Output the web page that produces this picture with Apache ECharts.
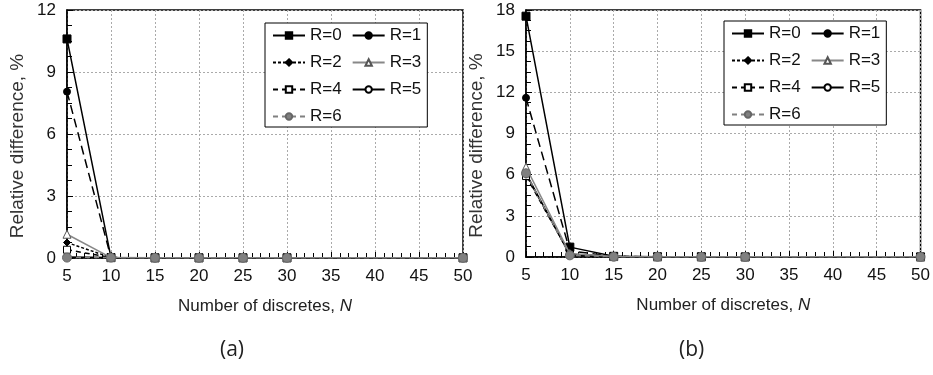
<!DOCTYPE html>
<html>
<head>
<meta charset="utf-8">
<script src="https://cdn.jsdelivr.net/npm/echarts@6/dist/echarts.min.js"></script>
<style>
  html, body { margin: 0; padding: 0; background: #fff; }
  #chart { width: 933px; height: 375px; }
</style>
</head>
<body>
<div id="chart"></div>
<script>
const discretes = [5, 10, 15, 20, 25, 30, 50];
const seriesNames = ["R=0", "R=1", "R=2", "R=3", "R=4", "R=5", "R=6"];

// panel (a)
const diffA0 = [10.6, 0.02, 0.01, 0.01, 0.01, 0.01, 0.01];
const diffA1 = [8.05, 0.02, 0.01, 0.01, 0.01, 0.01, 0.01];
const diffA2 = [0.75, 0.02, 0.01, 0.01, 0.01, 0.01, 0.01];
const diffA3 = [1.15, 0.02, 0.01, 0.01, 0.01, 0.01, 0.01];
const diffA4 = [0.4, 0.02, 0.01, 0.01, 0.01, 0.01, 0.01];
const diffA5 = [0.05, 0.02, 0.01, 0.01, 0.01, 0.01, 0.01];
const diffA6 = [0.02, 0.02, 0.01, 0.01, 0.01, 0.01, 0.01];

// panel (b)
const diffB0 = [17.55, 0.72, 0.05, 0.02, 0.02, 0.01, 0.01];
const diffB1 = [11.6, 0.45, 0.04, 0.02, 0.02, 0.01, 0.01];
const diffB2 = [6.0, 0.2, 0.03, 0.02, 0.01, 0.01, 0.01];
const diffB3 = [6.55, 0.25, 0.03, 0.02, 0.01, 0.01, 0.01];
const diffB4 = [5.9, 0.2, 0.03, 0.02, 0.01, 0.01, 0.01];
const diffB5 = [6.1, 0.15, 0.02, 0.02, 0.01, 0.01, 0.01];
const diffB6 = [6.1, 0.12, 0.02, 0.02, 0.01, 0.01, 0.01];

const valuesA = [diffA0, diffA1, diffA2, diffA3, diffA4, diffA5, diffA6];
const valuesB = [diffB0, diffB1, diffB2, diffB3, diffB4, diffB5, diffB6];

// line / marker look for each R, same in both panels
const looks = [
  { color: "#000", type: "solid", symbol: "rect", size: 8, fill: "#000", border: "#000" },
  { color: "#000", type: [9, 5], symbol: "circle", size: 7, fill: "#000", border: "#000" },
  { color: "#000", type: [3, 2], symbol: "diamond", size: 7, fill: "#000", border: "#000" },
  { color: "#888", type: "solid", symbol: "triangle", size: 8, fill: "#fff", border: "#555" },
  { color: "#000", type: [5, 4], symbol: "rect", size: 7, fill: "#fff", border: "#000" },
  { color: "#000", type: "solid", symbol: "circle", size: 7, fill: "#fff", border: "#000" },
  { color: "#808080", type: [5, 4], symbol: "circle", size: 9, fill: "#808080", border: "#666" },
];
const zOrder = [8, 7, 6, 9, 5, 4, 20];

const font = "'Liberation Sans', Arial, sans-serif";
const chart = echarts.init(document.getElementById("chart"));

function makeSeries(values, idx) {
  return values.map((vals, i) => ({
    name: seriesNames[i],
    type: "line",
    xAxisIndex: idx,
    yAxisIndex: idx,
    data: discretes.map((n, j) => [n, vals[j]]),
    symbol: looks[i].symbol,
    symbolSize: looks[i].size,
    showAllSymbol: true,
    lineStyle: { color: looks[i].color, type: looks[i].type, width: 1.5 },
    itemStyle: { color: looks[i].fill, borderColor: looks[i].border, borderWidth: 1 },
    z: zOrder[i],
  }));
}

function xAxis(idx) {
  return {
    gridIndex: idx,
    type: "value",
    min: 5,
    max: 50,
    interval: 5,
    name: "Number of discretes, {i|N}",
    nameLocation: "middle",
    nameGap: 40,
    nameTextStyle: { fontFamily: font, fontSize: 17, color: "#222", rich: { i: { fontFamily: font, fontSize: 17, fontStyle: "italic", color: "#222" } } },
    axisLine: { lineStyle: { color: "#000", width: 1.5 } },
    axisTick: { inside: true, length: 6, lineStyle: { color: "#000" } },
    minorTick: { show: true, splitNumber: 5, length: 5, lineStyle: { color: "#000" } },
    axisLabel: { fontFamily: font, fontSize: 17, color: "#111", margin: 10 },
    splitLine: { lineStyle: { color: "#aaa", type: [2, 2] } },
  };
}

function yAxis(idx, max) {
  return {
    gridIndex: idx,
    type: "value",
    min: 0,
    max: max,
    interval: 3,
    name: "Relative difference, %",
    nameLocation: "middle",
    nameGap: 40,
    nameTextStyle: { fontFamily: font, fontSize: 19, color: "#333", padding: [0, 24, 0, 0] },
    axisLine: { show: true, lineStyle: { color: "#000", width: 1.5 } },
    axisTick: { inside: true, length: 6, lineStyle: { color: "#000" } },
    minorTick: { show: true, splitNumber: 4, length: 5, lineStyle: { color: "#000" } },
    axisLabel: { fontFamily: font, fontSize: 17, color: "#111", margin: 11 },
    splitLine: { lineStyle: { color: "#aaa", type: [2, 2] } },
  };
}

// legend keys: R=1 is drawn solid in the key although its curve is dashed
const legendItems = seriesNames.map((name) =>
  name === "R=1" ? { name: name, lineStyle: { type: "solid" } } : { name: name }
);

function legend(left, top) {
  return {
    data: legendItems,
    left: left,
    top: top,
    width: 150,
    orient: "horizontal",
    itemWidth: 32,
    itemHeight: 8,
    itemGap: 10,
    padding: [4, 6, 2, 7],
    borderColor: "#000",
    borderWidth: 1,
    backgroundColor: "#fff",
    textStyle: { fontFamily: font, fontSize: 17, color: "#111" },
    selectedMode: false,
  };
}

chart.setOption({
  animation: false,
  grid: [
    { left: 67, top: 10, width: 396, height: 248, show: true, borderColor: "#000", borderWidth: 1.5 },
    { left: 526, top: 10, width: 396, height: 247, show: true, borderColor: "#000", borderWidth: 1.5 },
  ],
  xAxis: [xAxis(0), xAxis(1)],
  yAxis: [yAxis(0, 12), yAxis(1, 18)],
  legend: [legend(265, 23), legend(724, 21)],
  series: [...makeSeries(valuesA, 0), ...makeSeries(valuesB, 1)],
  graphic: [
    { type: "text", left: 220, top: 340, style: { text: "(a)", font: "21px 'Open Sans', sans-serif", fill: "#222" } },
    { type: "text", left: 679, top: 340, style: { text: "(b)", font: "21px 'Open Sans', sans-serif", fill: "#222" } },
  ],
});
</script>
</body>
</html>
